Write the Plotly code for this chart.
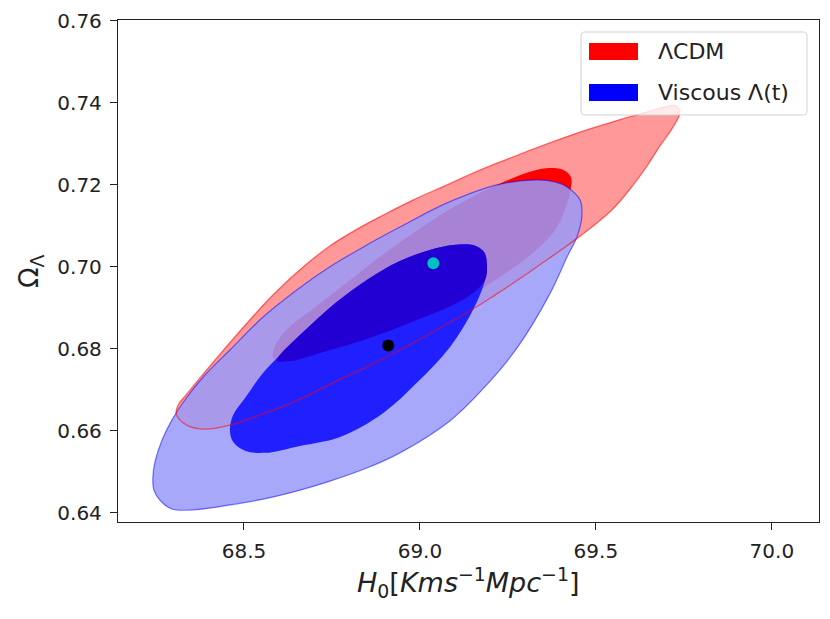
import plotly.graph_objects as go

# contour outlines: H0 and Omega_Lambda
lcdm_2s_h0 = [68.307, 68.313, 68.335, 68.375, 68.432, 68.509, 68.574, 68.651, 68.744, 68.838,
              68.886, 68.980, 69.077, 69.170, 69.264, 69.361, 69.455, 69.548, 69.625, 69.696,
              69.727, 69.739, 69.719, 69.682, 69.645, 69.597, 69.548, 69.503, 69.455, 69.406,
              69.364, 69.278, 69.213, 69.151, 69.037, 68.943, 68.849, 68.753, 68.659, 68.560,
              68.460, 68.389, 68.341, 68.315]
lcdm_2s_om = [0.6643, 0.6663, 0.6687, 0.6729, 0.6787, 0.6863, 0.6924, 0.6987, 0.7051, 0.7100,
              0.7122, 0.7163, 0.7200, 0.7236, 0.7268, 0.7300, 0.7329, 0.7354, 0.7373, 0.7390,
              0.7393, 0.7378, 0.7341, 0.7295, 0.7246, 0.7190, 0.7141, 0.7107, 0.7075, 0.7044,
              0.7019, 0.6968, 0.6931, 0.6897, 0.6841, 0.6797, 0.6756, 0.6717, 0.6677, 0.6643,
              0.6614, 0.6604, 0.6612, 0.6629]

lcdm_1s_h0 = [68.582, 68.597, 68.636, 68.688, 68.759, 68.830, 68.901, 68.986, 69.077, 69.170,
              69.256, 69.321, 69.369, 69.409, 69.429, 69.429, 69.412, 69.384, 69.321, 69.227,
              69.134, 68.991, 68.849, 68.716, 68.631, 68.594]
lcdm_1s_om = [0.6782, 0.6821, 0.6858, 0.6892, 0.6939, 0.6987, 0.7034, 0.7085, 0.7136, 0.7180,
              0.7214, 0.7234, 0.7241, 0.7236, 0.7219, 0.7192, 0.7139, 0.7090, 0.7034, 0.6975,
              0.6926, 0.6870, 0.6824, 0.6790, 0.6770, 0.6770]

visc_2s_h0 = [68.241, 68.247, 68.267, 68.295, 68.332, 68.389, 68.460, 68.551, 68.651, 68.744,
              68.838, 68.943, 69.077, 69.219, 69.332, 69.384, 69.418, 69.455, 69.460, 69.446,
              69.418, 69.369, 69.276, 69.179, 69.085, 68.943, 68.849, 68.744, 68.659, 68.554,
              68.460, 68.355, 68.295, 68.261, 68.244]
visc_2s_om = [0.6485, 0.6524, 0.6577, 0.6626, 0.6675, 0.6736, 0.6797, 0.6875, 0.6944, 0.7000,
              0.7048, 0.7097, 0.7156, 0.7200, 0.7212, 0.7207, 0.7195, 0.7163, 0.7122, 0.7073,
              0.7024, 0.6934, 0.6802, 0.6702, 0.6624, 0.6546, 0.6509, 0.6477, 0.6455, 0.6433,
              0.6419, 0.6407, 0.6409, 0.6431, 0.6455]

visc_1s_h0 = [68.460, 68.469, 68.503, 68.554, 68.602, 68.653, 68.702, 68.753, 68.849, 68.943,
              69.028, 69.094, 69.151, 69.182, 69.190, 69.185, 69.151, 69.085, 68.991, 68.895,
              68.773, 68.659, 68.560, 68.503, 68.469]
visc_1s_om = [0.6602, 0.6638, 0.6680, 0.6741, 0.6785, 0.6829, 0.6868, 0.6907, 0.6968, 0.7014,
              0.7041, 0.7053, 0.7053, 0.7036, 0.7009, 0.6968, 0.6895, 0.6804, 0.6717, 0.6643,
              0.6585, 0.6563, 0.6546, 0.6551, 0.6573]

# best fit points
best_lcdm = (68.910, 0.6808)
best_visc = (69.038, 0.7009)

x_ticks = [68.5, 69.0, 69.5, 70.0]
y_ticks = [0.64, 0.66, 0.68, 0.70, 0.72, 0.74, 0.76]


def closed(a):
    return list(a) + [a[0]]


# region where the two inner contours overlap (upper part of viscous 1 sigma)
overlap_h0 = visc_1s_h0[4:16] + lcdm_1s_h0[20:26]
overlap_om = visc_1s_om[4:16] + lcdm_1s_om[20:26]

fig = go.Figure()


def region(xs, ys, fill, line=None, width=0):
    fig.add_trace(go.Scatter(
        x=closed(xs), y=closed(ys), mode='lines', fill='toself', fillcolor=fill,
        line=dict(color=line or 'rgba(0,0,0,0)', width=width, shape='spline', smoothing=1.0),
        hoverinfo='skip', showlegend=False))


region(lcdm_2s_h0, lcdm_2s_om, 'rgba(255,0,0,0.4)')
region(lcdm_1s_h0, lcdm_1s_om, 'rgb(255,0,0)')
region(visc_2s_h0, visc_2s_om, 'rgba(153,153,249,0.85)', 'rgba(0,0,255,0.5)', 1.2)
region(visc_1s_h0, visc_1s_om, 'rgb(32,32,255)')
region(overlap_h0, overlap_om, 'rgb(34,0,212)')

# LCDM 2 sigma edge drawn over everything
fig.add_trace(go.Scatter(
    x=closed(lcdm_2s_h0), y=closed(lcdm_2s_om), mode='lines',
    line=dict(color='rgba(255,0,0,0.55)', width=1.3, shape='spline', smoothing=1.0),
    hoverinfo='skip', showlegend=False))

fig.add_trace(go.Scatter(x=[best_lcdm[0]], y=[best_lcdm[1]], mode='markers',
                         marker=dict(color='black', size=12), showlegend=False))
fig.add_trace(go.Scatter(x=[best_visc[0]], y=[best_visc[1]], mode='markers',
                         marker=dict(color='#00bfbf', size=12), showlegend=False))

axis_style = dict(showline=True, mirror=True, linecolor='#222', linewidth=1.3,
                  ticks='outside', ticklen=7, tickwidth=1.3, tickcolor='#222',
                  showgrid=False, zeroline=False, automargin=False,
                  tickfont=dict(family='DejaVu Sans', size=20, color='#222'))

fig.update_xaxes(range=[68.142, 70.134], tickvals=x_ticks,
                 ticktext=['%.1f' % v for v in x_ticks], ticklabelstandoff=4, **axis_style)
fig.update_yaxes(range=[0.63773, 0.76024], tickvals=y_ticks,
                 ticktext=['%.2f' % v for v in y_ticks], ticklabelstandoff=4, **axis_style)

# legend drawn by hand to get matplotlib-like patches
x0, x1, y0, y1, rx, ry = 0.6605, 0.9829, 0.8108, 0.9761, 0.006, 0.008
box = (f"M {x0+rx},{y1} L {x1-rx},{y1} Q {x1},{y1} {x1},{y1-ry} L {x1},{y0+ry} "
       f"Q {x1},{y0} {x1-rx},{y0} L {x0+rx},{y0} Q {x0},{y0} {x0},{y0+ry} "
       f"L {x0},{y1-ry} Q {x0},{y1} {x0+rx},{y1} Z")
shapes = [
    dict(type='path', path=box, xref='paper', yref='paper',
         fillcolor='rgba(255,255,255,0.8)', line=dict(color='#d0d0d0', width=1)),
    dict(type='rect', xref='paper', yref='paper', x0=0.6719, x1=0.7418, y0=0.9203, y1=0.9542,
         fillcolor='red', line=dict(width=0)),
    dict(type='rect', xref='paper', yref='paper', x0=0.6719, x1=0.7418, y0=0.8386, y1=0.8725,
         fillcolor='blue', line=dict(width=0)),
]
legend_font = dict(family='DejaVu Sans', size=22, color='#222')
annotations = [
    dict(text='ΛCDM', x=0.7675, y=0.9373, xref='paper', yref='paper',
         xanchor='left', yanchor='middle', showarrow=False, font=legend_font),
    dict(text='Viscous Λ(t)', x=0.7675, y=0.8556, xref='paper', yref='paper',
         xanchor='left', yanchor='middle', showarrow=False, font=legend_font),
    dict(text='<i>H</i><sub>0</sub>[<i>Kms</i><sup>−1</sup><i>Mpc</i><sup>−1</sup>]',
         x=0.5, y=-0.1215, xref='paper', yref='paper', xanchor='center', yanchor='middle',
         showarrow=False, font=dict(family='DejaVu Sans', size=27, color='#222')),
    dict(text='Ω<sub>Λ</sub>', x=-0.1255, y=0.5, xref='paper', yref='paper',
         xanchor='center', yanchor='middle', textangle=-90,
         showarrow=False, font=dict(family='DejaVu Sans', size=27, color='#222')),
]

fig.update_layout(
    width=830, height=619,
    margin=dict(l=118, r=11, t=20, b=97),
    paper_bgcolor='white', plot_bgcolor='white',
    shapes=shapes, annotations=annotations,
    showlegend=False,
)

fig.write_html("out.html", config={'displayModeBar': False},
               post_script="document.body.style.margin='0';")
